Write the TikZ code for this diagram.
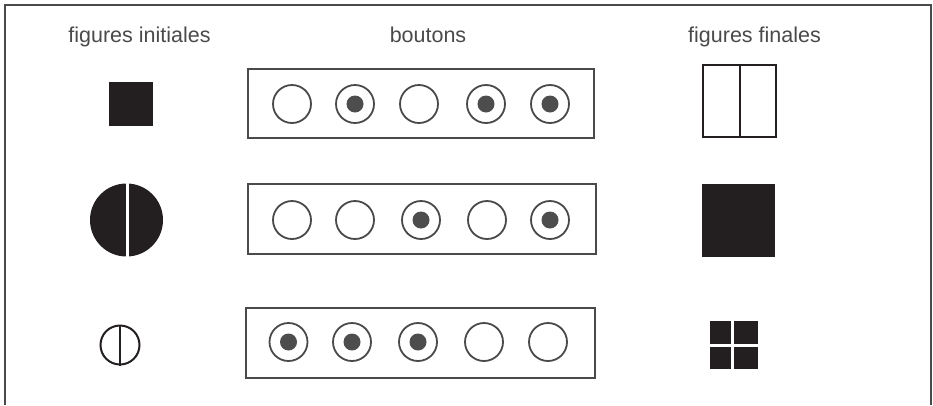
\documentclass[tikz,border=0pt]{standalone}
\usepackage{fontspec}
\setmainfont{Liberation Sans}
\definecolor{ink}{HTML}{231F20}
\definecolor{framec}{HTML}{4A4A4A}
\definecolor{btn}{HTML}{4D4D4D}
\begin{document}
\begin{tikzpicture}[x=1pt,y=-1pt,
  lbl/.style={font=\fontsize{21.5}{24}\selectfont, text=framec, anchor=base, inner sep=0pt},
  panel/.style={draw=framec, line width=1.8pt, fill=white, inner sep=0pt},
  btnring/.style={circle, draw=framec, line width=1.8pt, minimum size=38pt, inner sep=0pt},
  btndot/.style={circle, fill=btn, minimum size=17pt, inner sep=0pt},
  solidfig/.style={fill=ink, draw=none, inner sep=0pt},
  outlinefig/.style={draw=ink, fill=white, line width=2pt, inner sep=0pt},
  gap/.style={white, line width=3pt},
]
\useasboundingbox (0,0) rectangle (933,405);
% frame
\coordinate (fbl) at (5,405);
\coordinate (ftl) at (5,5);
\coordinate (ftr) at (931,5);
\coordinate (fbr) at (931,405);
\draw[framec, line width=2pt] (fbl) -- (ftl) -- (ftr) -- (fbr);

% headings
\node[lbl] (t1) at (139.5,42) {figures initiales};
\node[lbl] (t2) at (428,42) {boutons};
\node[lbl] (t3) at (754.5,42) {figures finales};

% button panels
\node[panel, minimum width=346pt, minimum height=69pt] (box1) at (421,103.5) {};
\node[panel, minimum width=348pt, minimum height=70pt] (box2) at (422,219) {};
\node[panel, minimum width=349pt, minimum height=70pt] (box3) at (420.5,343) {};

\foreach \x/\s [count=\i] in {292/0,355/1,419/0,486/1,550/1}{
  \node[btnring] (ra\i) at (\x,104) {};
  \ifnum\s=1 \node[btndot] (da\i) at (ra\i) {};\fi
}
\foreach \x/\s [count=\i] in {292/0,355/0,421/1,487/0,550/1}{
  \node[btnring] (rb\i) at (\x,220) {};
  \ifnum\s=1 \node[btndot] (db\i) at (rb\i) {};\fi
}
\foreach \x/\s [count=\i] in {288.5/1,352/1,418/1,484/0,548/0}{
  \node[btnring] (rc\i) at (\x,342) {};
  \ifnum\s=1 \node[btndot] (dc\i) at (rc\i) {};\fi
}

% initial figures
\node[solidfig, minimum size=44pt] (fa1) at (131,104) {};
\node[solidfig, circle, minimum size=73pt] (fa2) at (126.5,220) {};
\draw[gap] ([xshift=0.5pt]fa2.north) -- ([xshift=0.5pt]fa2.south);
\node[outlinefig, circle, minimum size=39pt] (fa3) at (120,345) {};
\draw[ink, line width=2pt] (fa3.north) -- (fa3.south);

% final figures
\node[outlinefig, minimum width=73pt, minimum height=72pt] (fb1) at (739.5,101) {};
\draw[ink, line width=2pt] (fb1.north) -- (fb1.south);
\node[solidfig, minimum size=73pt] (fb2) at (738.5,220) {};
\node[solidfig, minimum size=48pt] (fb3) at (734,345) {};
\draw[gap] ([xshift=-1.5pt,yshift=-0.5pt]fb3.north) -- ([xshift=-1.5pt,yshift=0.5pt]fb3.south);
\draw[gap] ([xshift=0.5pt]fb3.west) -- ([xshift=-0.5pt]fb3.east);
\end{tikzpicture}
\end{document}
